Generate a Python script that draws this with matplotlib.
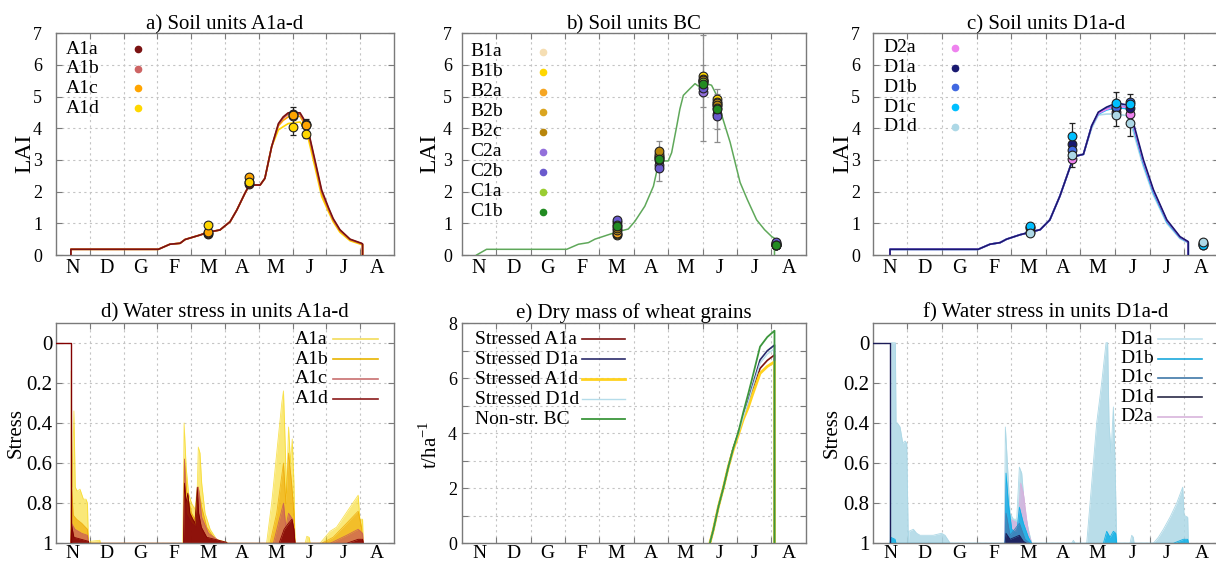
import matplotlib
matplotlib.use('Agg')
import matplotlib.pyplot as plt
from matplotlib.lines import Line2D
from matplotlib.ticker import FixedLocator, NullFormatter, FixedFormatter

plt.rcParams['font.family'] = ['Liberation Serif', 'DejaVu Serif']
plt.rcParams['mathtext.fontset'] = 'custom'
plt.rcParams['mathtext.rm'] = 'Liberation Serif'

# ---------------- data ----------------
MONTHS = ['N', 'D', 'G', 'F', 'M', 'A', 'M', 'J', 'J', 'A']

# a) LAI, units A1a-d
X_A = [0.44, 0.44, 3.03, 3.37, 3.67, 3.82, 4.26, 4.5, 4.85, 5.15, 5.35, 5.59, 5.72, 6.04, 6.18, 6.38,
       6.58, 6.72, 6.87, 7.22, 7.32, 7.46, 7.66, 7.86, 8.06, 8.2, 8.4, 8.7, 9.04, 9.07, 9.07]
LAI_A1a = [0, 0.18, 0.18, 0.34, 0.37, 0.49, 0.63, 0.72, 0.79, 1.05, 1.42, 1.95, 2.21, 2.21, 2.42, 3.42,
           4.15, 4.36, 4.49, 4.49, 4.31, 3.94, 3.0, 2.05, 1.5, 1.15, 0.8, 0.5, 0.37, 0.35, 0]
LAI_A1b = [0, 0.18, 0.18, 0.34, 0.37, 0.49, 0.63, 0.72, 0.79, 1.05, 1.42, 1.95, 2.21, 2.21, 2.42, 3.42,
           4.12, 4.32, 4.45, 4.45, 4.28, 3.9, 2.95, 2.0, 1.47, 1.12, 0.78, 0.49, 0.36, 0.34, 0]
LAI_A1c = [0, 0.18, 0.18, 0.34, 0.37, 0.49, 0.63, 0.72, 0.79, 1.05, 1.42, 1.95, 2.21, 2.21, 2.42, 3.42,
           4.08, 4.25, 4.36, 4.38, 4.2, 3.85, 2.9, 1.95, 1.43, 1.1, 0.76, 0.48, 0.35, 0.33, 0]
LAI_A1d = [0, 0.18, 0.18, 0.34, 0.37, 0.49, 0.63, 0.72, 0.79, 1.05, 1.42, 1.95, 2.21, 2.21, 2.42, 3.42,
           3.95, 4.05, 4.15, 4.2, 4.05, 3.7, 2.78, 1.85, 1.37, 1.05, 0.72, 0.45, 0.33, 0.32, 0]
OBS_A_X = [4.5, 5.72, 7.0, 7.4]
OBS_A1a = [0.65, 2.25, 4.45, 4.15]
OBS_A1b = [0.7, 2.3, 4.4, 4.12]
OBS_A1c = [0.72, 2.45, 4.42, 4.1]
OBS_A1d = [0.95, 2.31, 4.05, 3.82]
ERR_A_X = [7.0, 7.4]
ERR_A_LO = [3.79, 3.68]
ERR_A_HI = [4.66, 4.28]

# b) LAI, units BC
X_B = [0.43, 0.72, 3.05, 3.39, 3.68, 3.87, 4.26, 4.55, 4.84, 5.03, 5.32, 5.57, 5.71, 5.86, 6.0, 6.1,
       6.25, 6.34, 6.44, 6.63, 6.78, 6.88, 7.02, 7.26, 7.41, 7.56, 7.8, 8.09, 8.3, 8.57, 8.8, 9.01, 9.09, 9.09]
LAI_BC = [0, 0.18, 0.18, 0.34, 0.39, 0.5, 0.64, 0.74, 0.82, 1.06, 1.54, 2.17, 2.85, 2.97, 2.97, 3.23,
          4.08, 4.61, 5.04, 5.25, 5.41, 5.33, 5.44, 5.36, 5.04, 4.4, 3.56, 2.29, 1.75, 1.11, 0.8, 0.58, 0.53, 0]
OBS_B_X = [4.52, 5.74, 7.02, 7.41, 9.13]
OBS_B1a = [0.62, 3.1, 5.5, 4.75, 0.3]
OBS_B1b = [0.65, 3.05, 5.65, 4.91, 0.32]
OBS_B2a = [0.7, 3.12, 5.55, 4.82, 0.35]
OBS_B2b = [0.78, 3.2, 5.5, 4.8, 0.33]
OBS_B2c = [0.85, 3.29, 5.51, 4.75, 0.36]
OBS_C2a = [1.05, 2.85, 5.14, 4.45, 0.38]
OBS_C2b = [1.1, 2.75, 5.27, 4.4, 0.42]
OBS_C1a = [0.95, 3.0, 5.45, 4.65, 0.3]
OBS_C1b = [0.9, 3.04, 5.41, 4.61, 0.32]
ERR_B_X = [5.74, 7.02, 7.02, 7.41, 7.41]
ERR_B_LO = [2.33, 3.6, 4.68, 3.57, 3.98]
ERR_B_HI = [3.6, 6.95, 5.99, 5.25, 5.09]

# c) LAI, units D
X_C = [0.5, 0.5, 3.05, 3.39, 3.68, 3.87, 4.26, 4.84, 5.12, 5.41, 5.75, 5.9, 6.09, 6.33, 6.52, 6.76,
       7.05, 7.34, 7.53, 7.82, 8.11, 8.5, 8.88, 9.12, 9.12]
LAI_D1a = [0, 0.18, 0.18, 0.34, 0.39, 0.5, 0.64, 0.8, 1.11, 1.86, 2.92, 3.13, 3.18, 4.08, 4.51, 4.67,
           4.8, 4.74, 4.19, 3.02, 2.07, 1.11, 0.58, 0.42, 0]
LAI_D1b = [0, 0.18, 0.18, 0.34, 0.39, 0.5, 0.64, 0.8, 1.11, 1.86, 2.92, 3.13, 3.18, 4.08, 4.48, 4.62,
           4.72, 4.68, 4.1, 2.95, 2.02, 1.08, 0.56, 0.41, 0]
LAI_D1c = [0, 0.18, 0.18, 0.34, 0.39, 0.5, 0.64, 0.8, 1.11, 1.86, 2.92, 3.13, 3.18, 4.08, 4.45, 4.58,
           4.66, 4.62, 4.05, 2.9, 1.98, 1.05, 0.55, 0.4, 0]
LAI_D1d = [0, 0.18, 0.18, 0.34, 0.39, 0.5, 0.64, 0.8, 1.11, 1.86, 2.92, 3.13, 3.18, 4.0, 4.42, 4.45,
           4.45, 4.4, 3.9, 2.8, 1.9, 1.0, 0.52, 0.38, 0]
LAI_D2a = [0, 0.18, 0.18, 0.34, 0.39, 0.5, 0.64, 0.8, 1.11, 1.86, 2.92, 3.13, 3.18, 4.08, 4.47, 4.6,
           4.7, 4.66, 4.12, 2.97, 2.04, 1.09, 0.57, 0.41, 0]
OBS_C_X = [4.55, 5.77, 7.03, 7.43, 9.56]
OBS_D2a = [0.72, 3.02, 4.5, 4.45, 0.35]
OBS_D1a = [0.85, 3.5, 4.63, 4.63, 0.33]
OBS_D1b = [0.88, 3.3, 4.68, 4.82, 0.38]
OBS_D1c = [0.92, 3.76, 4.8, 4.77, 0.32]
OBS_D1d = [0.69, 3.15, 4.43, 4.17, 0.42]
ERR_C_X = [5.77, 7.03, 7.43]
ERR_C_LO = [2.79, 4.06, 3.76]
ERR_C_HI = [4.17, 5.14, 5.09]

# d) water stress A1a-d (1 = no stress)
PRE_D_X = [0, 0.44, 0.44]
PRE_D_S = [0, 0, 1]
STR_A1a_X = [0.44, 0.45, 0.48, 0.53, 0.57, 0.63, 0.71, 0.77, 0.81, 0.89, 0.93, 0.96, 1.0, 1.01, 1.3, 1.31,
             3.75, 3.79, 3.85, 3.92, 4.01, 4.11, 4.18, 4.21, 4.26, 4.31, 4.41, 4.56, 4.75, 5.05, 5.1,
             6.23, 6.38, 6.53, 6.68, 6.73, 6.78, 6.82, 6.88, 6.94, 6.99, 7.04, 7.07,
             7.37, 7.42, 7.49, 7.52,
             7.81, 7.96, 8.11, 8.3, 8.5, 8.7, 8.9, 8.94, 8.99, 9.07, 9.09]
STR_A1a = [1, 0.14, 0.72, 0.34, 0.72, 0.74, 0.73, 0.76, 0.78, 0.78, 0.8, 1, 1, 0.99, 0.985, 1,
           1, 0.4, 0.62, 0.75, 0.8, 0.83, 0.72, 0.52, 0.55, 0.7, 0.85, 0.93, 0.98, 0.995, 1,
           1, 0.8, 0.55, 0.3, 0.24, 0.5, 0.75, 0.42, 0.6, 0.48, 0.7, 1,
           1, 0.965, 0.97, 1,
           1, 0.97, 0.94, 0.92, 0.87, 0.82, 0.77, 0.76, 0.88, 0.88, 1]
STR_A1b_X = [0.44, 0.46, 0.51, 0.61, 0.76, 0.93, 0.96,
             3.77, 3.8, 3.87, 4.01, 4.11, 4.21, 4.31, 4.46, 4.66, 4.85,
             6.33, 6.53, 6.73, 6.8, 6.88, 6.97, 7.04, 7.07,
             7.86, 8.2, 8.6, 8.94, 9.04, 9.07]
STR_A1b = [1, 0.72, 0.86, 0.88, 0.9, 0.93, 1,
           1, 0.58, 0.75, 0.85, 0.88, 0.72, 0.82, 0.92, 0.97, 1,
           1, 0.85, 0.6, 0.8, 0.55, 0.7, 0.85, 1,
           1, 0.97, 0.9, 0.84, 0.92, 1]
STR_A1c_X = [0.44, 0.46, 0.56, 0.76, 0.93, 0.96,
             3.77, 3.8, 3.85, 4.01, 4.16, 4.21, 4.31, 4.51, 4.85, 5.05,
             6.43, 6.73, 6.8, 6.88, 7.0, 7.07,
             8.11, 8.6, 8.94, 9.07, 9.09]
STR_A1c = [1, 0.9, 0.93, 0.95, 0.96, 1,
           1, 0.58, 0.85, 0.9, 0.92, 0.72, 0.87, 0.95, 0.99, 1,
           1, 0.8, 0.92, 0.85, 0.88, 1,
           1, 0.96, 0.93, 0.95, 1]
STR_A1d_X = [0.44, 0.46, 0.53, 0.96, 0.97,
             3.77, 3.8, 3.85, 3.9, 3.96, 4.05, 4.11, 4.18, 4.22, 4.3, 4.46, 5.05, 5.06,
             6.6, 6.75, 6.88, 6.98, 7.04, 7.07,
             8.6, 8.94, 9.07, 9.09]
STR_A1d = [1, 0.91, 0.97, 0.99, 1,
           1, 0.7, 0.8, 0.75, 0.85, 0.88, 0.9, 0.72, 0.85, 0.92, 0.97, 0.995, 1,
           1, 0.93, 0.9, 0.88, 0.93, 1,
           1, 0.98, 0.98, 1]

# e) dry mass of grains (t/ha)
X_E = [7.21, 7.31, 7.46, 7.60, 7.75, 7.89, 8.04, 8.18, 8.33, 8.43, 8.67, 8.88, 9.09, 9.09]
GR_A1a = [0, 0.48, 1.33, 2.0, 2.79, 3.45, 4.0, 4.55, 5.05, 5.45, 6.36, 6.65, 6.85, 0]
GR_D1a = [0, 0.48, 1.33, 2.0, 2.79, 3.45, 4.0, 4.6, 5.2, 5.64, 6.67, 7.0, 7.21, 0]
GR_A1d = [0, 0.48, 1.33, 2.0, 2.79, 3.4, 3.95, 4.5, 4.95, 5.33, 6.18, 6.43, 6.6, 0]
GR_D1d = [0, 0.48, 1.33, 2.0, 2.79, 3.45, 4.0, 4.58, 5.15, 5.58, 6.55, 6.88, 7.08, 0]
GR_BC = [0, 0.48, 1.33, 2.0, 2.79, 3.45, 4.05, 4.75, 5.45, 5.94, 7.15, 7.5, 7.73, 0]

# f) water stress D
PRE_F_X = [0, 0.5, 0.5]
PRE_F_S = [0, 0, 1]
STR_D1a_X = [0.5, 0.53, 0.655, 0.674, 0.713, 0.79, 0.867, 0.934, 0.983, 1.03, 1.05, 1.175, 1.27, 1.37,
             1.56, 1.75, 1.99, 2.09, 2.24,
             3.805, 3.834, 3.892, 3.969, 4.066, 4.162, 4.21, 4.239, 4.306, 4.403, 4.499, 4.595,
             5.75, 5.8, 5.85,
             6.185, 6.33, 6.474, 6.618, 6.744, 6.79, 6.83, 6.888, 6.956, 7.004, 7.052,
             7.437, 7.486, 7.534, 7.553,
             8.112, 8.256, 8.401, 8.593, 8.786, 8.96, 8.998, 9.104, 9.123]
STR_D1a = [1, 0, 0, 0.4, 0.4, 0.42, 0.5, 0.49, 0.5, 1, 0.94, 0.93, 0.95, 0.96,
           0.96, 0.96, 0.95, 0.96, 1,
           1, 0.42, 0.6, 0.85, 0.88, 0.88, 0.72, 0.62, 0.65, 0.85, 0.93, 1,
           1, 0.985, 1,
           1, 0.7, 0.4, 0.2, 0, 0, 0.4, 0.55, 0.32, 0.6, 1,
           1, 0.96, 0.97, 1,
           1, 0.97, 0.93, 0.87, 0.8, 0.72, 0.86, 0.87, 1]
STR_D2a_X = [3.805, 3.853, 3.969, 4.21, 4.277, 4.355, 4.499, 4.595]
STR_D2a = [1, 0.7, 0.88, 0.9, 0.7, 0.75, 0.95, 1]
STR_D1b_X = [0.5, 0.52, 0.645, 0.674,
             3.825, 3.853, 3.921, 4.017, 4.162, 4.239, 4.355, 4.499, 4.595,
             6.667, 6.763, 6.859, 6.956, 7.023, 7.052,
             8.69, 8.979, 9.104, 9.123]
STR_D1b = [1, 0.97, 0.98, 1,
           1, 0.65, 0.8, 0.93, 0.95, 0.82, 0.9, 0.97, 1,
           1, 0.94, 0.97, 0.94, 0.95, 1,
           1, 0.98, 0.98, 1]
STR_D1c_X = [3.825, 3.853, 3.969, 4.239, 4.403, 4.547]
STR_D1c = [1, 0.85, 0.96, 0.9, 0.98, 1]
STR_D1d_X = [3.825, 3.853, 3.969, 4.239, 4.355, 4.451]
STR_D1d = [1, 0.95, 0.98, 0.96, 0.99, 1]

# ---------------- figure ----------------
W, H = 1216, 561
fig = plt.figure(figsize=(W / 100, H / 100), dpi=100)


def make_ax(left, top, width, height):
    return fig.add_axes([left / W, 1 - (top + height) / H, width / W, height / H])


ax_a = make_ax(56, 33.3, 338, 221.7)
ax_b = make_ax(461.8, 33.3, 344, 221.7)
ax_c = make_ax(872.7, 33.3, 346, 221.7)
ax_d = make_ax(56, 322.7, 338, 220.6)
ax_e = make_ax(461.8, 323.3, 344, 220.0)
ax_f = make_ax(872.7, 322.7, 346, 220.6)

FRAME = '#7a7a7a'
GRID = '#c4c4c4'
LEG_FS = 14


def style_months(ax, xfs=14.5, xpad=3):
    ax.set_xlim(0, 10)
    ax.xaxis.set_major_locator(FixedLocator(list(range(1, 10))))
    ax.xaxis.set_major_formatter(NullFormatter())
    ax.xaxis.set_minor_locator(FixedLocator([i + 0.5 for i in range(10)]))
    ax.xaxis.set_minor_formatter(FixedFormatter(MONTHS))
    ax.tick_params(axis='x', which='major', direction='in', length=4, color=FRAME, top=True)
    ax.tick_params(axis='x', which='minor', length=0, pad=xpad, labelsize=xfs)
    ax.grid(True, axis='x', which='major', color=GRID, ls=(0, (2, 3)), lw=0.8)
    ax.grid(True, axis='y', which='major', color=GRID, ls=(0, (2, 3)), lw=0.8)
    for s in ax.spines.values():
        s.set_color(FRAME)
        s.set_linewidth(1.0)
    ax.set_axisbelow(True)


def lai_axes(ax, title, ypad, lab_x):
    style_months(ax)
    ax.set_ylim(0, 7)
    ax.set_yticks(range(8))
    ax.tick_params(axis='y', direction='in', length=4, color=FRAME, right=True,
                   labelsize=13, pad=ypad)
    ax.set_title(title, fontsize=15, pad=2.5)
    ax.set_ylabel('LAI', fontsize=17)
    ax.yaxis.label.set_va('center')
    ax.yaxis.set_label_coords(lab_x, 0.46)


def key(ax, names, styles, x_text, y_first, dy, x_h0, x_h1=None):
    """Key with left-aligned labels and a common symbol column (gnuplot style)."""
    for i, (name, st) in enumerate(zip(names, styles)):
        yy = y_first - i * dy
        ax.text(x_text, yy, name, transform=ax.transAxes, fontsize=LEG_FS, ha='left', va='center')
        if x_h1 is None:
            ax.add_line(Line2D([x_h0], [yy], transform=ax.transAxes, ls='none', marker='o',
                               ms=4.5, mfc=st, mec=st))
        else:
            c, lw = st
            ax.add_line(Line2D([x_h0, x_h1], [yy, yy], transform=ax.transAxes, color=c, lw=lw))


def scatter_obs(ax, x, series, colors):
    for vals, c in zip(series, colors):
        ax.plot(x, vals, ls='none', marker='o', ms=6.3, mfc=c, mec='#202020', mew=0.8, zorder=5)


def errbars(ax, x, lo, hi, color):
    mid = [(a + b) / 2 for a, b in zip(lo, hi)]
    err = [[m - a for m, a in zip(mid, lo)], [b - m for m, b in zip(mid, hi)]]
    ax.errorbar(x, mid, yerr=err, fmt='none', ecolor=color, elinewidth=0.9, capsize=2.5,
                capthick=0.9, zorder=4)


# ---- a ----
A_NAMES = ['A1a', 'A1b', 'A1c', 'A1d']
A_COLS = ['#7a1212', '#cd6464', '#ffa500', '#ffd700']
lai_axes(ax_a, 'a) Soil units A1a-d', 10, -0.092)
for vals, c in zip([LAI_A1d, LAI_A1c, LAI_A1b, LAI_A1a], A_COLS[::-1]):
    ax_a.plot(X_A, vals, color=c, lw=1.2, zorder=3)
errbars(ax_a, ERR_A_X, ERR_A_LO, ERR_A_HI, '#222222')
scatter_obs(ax_a, OBS_A_X, [OBS_A1a, OBS_A1b, OBS_A1c, OBS_A1d], A_COLS)
key(ax_a, A_NAMES, A_COLS, 0.0296, 0.929, 0.0887, 0.2426)

# ---- b ----
B_NAMES = ['B1a', 'B1b', 'B2a', 'B2b', 'B2c', 'C2a', 'C2b', 'C1a', 'C1b']
B_COLS = ['#f5deb3', '#ffd700', '#f5a623', '#daa520', '#b8860b', '#9370db', '#6a5acd', '#9acd32', '#228b22']
lai_axes(ax_b, 'b) Soil units BC', 7, -0.092)
ax_b.plot(X_B, LAI_BC, color='#5fa85a', lw=1.1, zorder=3)
errbars(ax_b, ERR_B_X, ERR_B_LO, ERR_B_HI, '#8c8c8c')
scatter_obs(ax_b, OBS_B_X, [OBS_B1a, OBS_B1b, OBS_B2a, OBS_B2b, OBS_B2c, OBS_C2a, OBS_C2b, OBS_C1a, OBS_C1b], B_COLS)
key(ax_b, B_NAMES, B_COLS, 0.0259, 0.917, 0.0902, 0.236)

# ---- c ----
C_NAMES = ['D2a', 'D1a', 'D1b', 'D1c', 'D1d']
C_COLS = ['#ee82ee', '#191970', '#4169e1', '#00bfff', '#add8e6']
lai_axes(ax_c, 'c) Soil units D1a-d', 9, -0.086)
for vals, c in zip([LAI_D1d, LAI_D1c, LAI_D1b, LAI_D2a, LAI_D1a],
                   ['#add8e6', '#00bfff', '#4169e1', '#ee82ee', '#191970']):
    ax_c.plot(X_C, vals, color=c, lw=1.2, zorder=3)
errbars(ax_c, ERR_C_X, ERR_C_LO, ERR_C_HI, '#222222')
scatter_obs(ax_c, OBS_C_X, [OBS_D2a, OBS_D1a, OBS_D1b, OBS_D1c, OBS_D1d], C_COLS)
key(ax_c, C_NAMES, C_COLS, 0.0298, 0.935, 0.0893, 0.2379)


# ---- stress panels ----
def stress_axes(ax, title, ypad, lab_x):
    style_months(ax, xfs=14, xpad=1.5)
    ax.set_ylim(1, -0.1)
    ax.set_yticks([0, 0.2, 0.4, 0.6, 0.8, 1])
    ax.set_yticklabels(['0', '0.2', '0.4', '0.6', '0.8', '1'])
    ax.tick_params(axis='y', direction='in', length=4, color=FRAME, right=True,
                   labelsize=15, pad=ypad)
    ax.set_title(title, fontsize=15, pad=3.5)
    ax.set_ylabel('Stress', fontsize=15)
    ax.yaxis.label.set_va('center')
    ax.yaxis.set_label_coords(lab_x, 0.5)


stress_axes(ax_d, 'd) Water stress in units A1a-d', 2.6, -0.118)
D_SERIES = [('A1a', STR_A1a_X, STR_A1a, '#f7d91e', 0.6),
            ('A1b', STR_A1b_X, STR_A1b, '#eea800', 0.65),
            ('A1c', STR_A1c_X, STR_A1c, '#c85a5a', 0.7),
            ('A1d', STR_A1d_X, STR_A1d, '#820000', 0.85)]
for name, xs, ss, c, al in D_SERIES:
    ax_d.fill_between(xs, ss, 1, color=c, alpha=al, lw=0, zorder=2)
    ax_d.plot(xs, ss, color=c, alpha=min(1, al + 0.15), lw=0.6, zorder=2)
ax_d.plot(PRE_D_X, PRE_D_S, color='#820000', lw=1.0, zorder=3)
key(ax_d, [s[0] for s in D_SERIES],
    [('#f2dc5a', 1.2), ('#e8b400', 1.2), ('#c87070', 1.2), ('#8b1a1a', 1.2)],
    0.707, 0.925, 0.09, 0.8195, 0.9527)

stress_axes(ax_f, 'f) Water stress in units D1a-d', 2.2, -0.118)
F_SERIES = [('D1a', STR_D1a_X, STR_D1a, '#add8e6', 0.85),
            ('D1b', STR_D1b_X, STR_D1b, '#0fb0e6', 0.85),
            ('D1c', STR_D1c_X, STR_D1c, '#3f7fb5', 0.85),
            ('D1d', STR_D1d_X, STR_D1d, '#1c1c58', 0.9),
            ('D2a', STR_D2a_X, STR_D2a, '#d8b0dd', 0.8)]
for name, xs, ss, c, al in [F_SERIES[0], F_SERIES[4], F_SERIES[1], F_SERIES[2], F_SERIES[3]]:
    ax_f.fill_between(xs, ss, 1, color=c, alpha=al, lw=0, zorder=2)
    ax_f.plot(xs, ss, color=c, lw=0.6, zorder=2)
ax_f.plot(PRE_F_X, PRE_F_S, color='#1c1c58', lw=1.0, zorder=3)
key(ax_f, [s[0] for s in F_SERIES],
    [('#bfe0ec', 1.2), ('#1aa8dc', 1.2), ('#3f78a8', 1.2), ('#2a2a48', 1.2), ('#d8b4dc', 1.2)],
    0.7147, 0.925, 0.0878, 0.8246, 0.9509)

# ---- e ----
style_months(ax_e, xfs=14, xpad=1.5)
ax_e.set_ylim(0, 8)
ax_e.set_yticks(range(9))
ax_e.set_yticklabels(['0', '', '2', '', '4', '', '6', '', '8'])
ax_e.tick_params(axis='y', direction='in', length=4, color=FRAME, right=True, labelsize=13, pad=3.6)
ax_e.set_title('e) Dry mass of wheat grains', fontsize=15, pad=3.5)
ax_e.set_ylabel('t/ha$^{-1}$', fontsize=15)
ax_e.yaxis.label.set_va('center')
ax_e.yaxis.set_label_coords(-0.092, 0.447)
E_SERIES = [('Stressed A1a', GR_A1a, '#7a1212', 1.2),
            ('Stressed D1a', GR_D1a, '#2b2b6b', 1.2),
            ('Stressed A1d', GR_A1d, '#ffd21e', 2.0),
            ('Stressed D1d', GR_D1d, '#b5dcea', 1.0),
            ('Non-str. BC', GR_BC, '#3c963c', 1.3)]
for name, vals, c, lw in E_SERIES:
    ax_e.plot(X_E, vals, color=c, lw=lw, zorder=3)
key(ax_e, [s[0] for s in E_SERIES], [(s[2], s[3]) for s in E_SERIES],
    0.038, 0.927, 0.0905, 0.3486, 0.4744)

fig.savefig('out.png', dpi=100)
